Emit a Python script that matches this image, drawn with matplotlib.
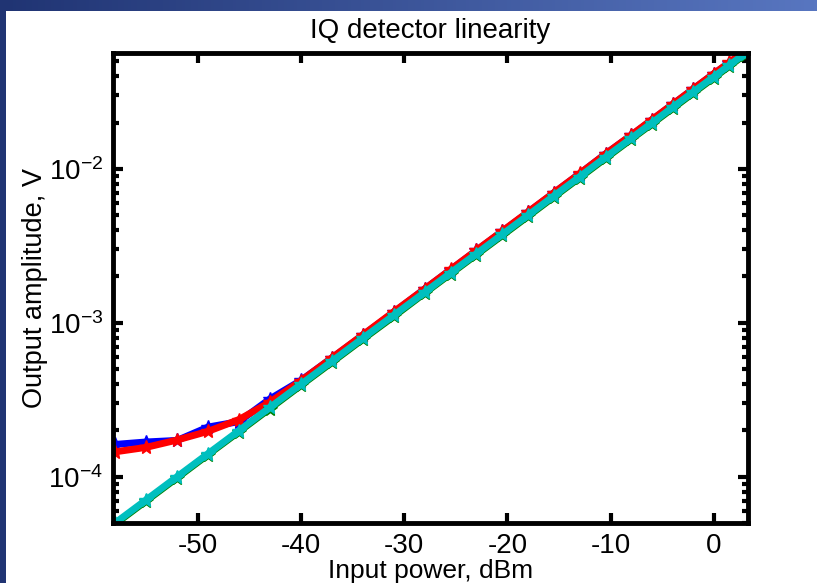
import matplotlib
matplotlib.use("Agg")
import matplotlib.pyplot as plt
import numpy as np
from matplotlib.ticker import LogLocator, NullFormatter

plt.rcParams['font.family'] = ['Liberation Sans', 'DejaVu Sans']
plt.rcParams['mathtext.fontset'] = 'custom'
plt.rcParams['mathtext.rm'] = 'Liberation Sans'
plt.rcParams['mathtext.it'] = 'Liberation Sans'
plt.rcParams['axes.unicode_minus'] = False

# input power, dBm
power = [-58, -55, -52, -49, -46, -43, -40, -37, -34, -31, -28, -25.5, -23,
         -20.5, -18, -15.5, -13, -10.5, -8, -6, -4, -2, 0, 1.5, 3]

# output amplitudes, V
amp_blue = [1.62e-4, 1.68e-4, 1.72e-4, 2.10e-4, 2.28e-4, 3.20e-4, 4.22e-4,
            5.90e-4, 8.30e-4, 1.17e-3, 1.66e-3, 2.21e-3, 2.95e-3, 3.92e-3,
            5.22e-3, 6.98e-3, 9.30e-3, 1.25e-2, 1.65e-2, 2.08e-2, 2.62e-2,
            3.30e-2, 4.15e-2, 4.90e-2, 5.80e-2]
amp_red = [1.45e-4, 1.55e-4, 1.73e-4, 1.97e-4, 2.35e-4, 3.05e-4, 4.20e-4,
           5.92e-4, 8.35e-4, 1.18e-3, 1.66e-3, 2.22e-3, 2.96e-3, 3.94e-3,
           5.25e-3, 7.00e-3, 9.33e-3, 1.25e-2, 1.66e-2, 2.09e-2, 2.63e-2,
           3.31e-2, 4.16e-2, 4.92e-2, 5.82e-2]
amp_green = [4.92e-5, 6.95e-5, 9.82e-5, 1.39e-4, 1.96e-4, 2.77e-4, 3.92e-4,
             5.53e-4, 7.82e-4, 1.10e-3, 1.56e-3, 2.08e-3, 2.77e-3, 3.69e-3,
             4.92e-3, 6.57e-3, 8.76e-3, 1.17e-2, 1.56e-2, 1.96e-2, 2.47e-2,
             3.11e-2, 3.91e-2, 4.65e-2, 5.53e-2]
amp_cyan = [5.00e-5, 7.06e-5, 9.98e-5, 1.41e-4, 1.99e-4, 2.82e-4, 3.98e-4,
            5.62e-4, 7.94e-4, 1.12e-3, 1.58e-3, 2.11e-3, 2.81e-3, 3.75e-3,
            5.00e-3, 6.67e-3, 8.89e-3, 1.19e-2, 1.58e-2, 1.99e-2, 2.51e-2,
            3.16e-2, 3.97e-2, 4.72e-2, 5.61e-2]

fig = plt.figure(figsize=(8.17, 5.83), dpi=100)
fig.patch.set_facecolor('white')

# slide background: gradient band on top, dark strip on the left
bg = fig.add_axes([0, 0, 1, 1], zorder=-10)
bg.set_axis_off()
grad = np.linspace(0, 1, 256).reshape(1, -1)
c0 = np.array([32, 52, 115]) / 255
c1 = np.array([88, 118, 192]) / 255
img = c0[None, None, :] * (1 - grad[..., None]) + c1[None, None, :] * grad[..., None]
bg.imshow(img, extent=[0, 1, 1 - 11 / 583, 1], aspect='auto')
bg.add_patch(plt.Rectangle((0, 0), 6 / 817, 1, color=c0, lw=0))
bg.set_xlim(0, 1)
bg.set_ylim(0, 1)

ax = fig.add_axes([113 / 817, 60 / 583, 635 / 817, 470 / 583])
lw = 5
ms = 10
ax.semilogy(power, amp_blue, '-*', color='#0000ff', lw=lw, ms=ms)
ax.semilogy(power, amp_red, '-*', color='#ff0000', lw=lw, ms=ms)
ax.semilogy(power, amp_green, '-*', color='#008000', lw=lw, ms=ms)
ax.semilogy(power, amp_cyan, '-*', color='#00bfbf', lw=lw, ms=ms)

ax.set_xlim(-58.2, 3.3)
ax.set_ylim(5.0e-5, 5.66e-2)
ax.set_xticks([-50, -40, -30, -20, -10, 0])
ax.yaxis.set_major_locator(LogLocator(base=10))
ax.yaxis.set_minor_locator(LogLocator(base=10, subs=np.arange(2, 10)))
ax.yaxis.set_minor_formatter(NullFormatter())

for s in ax.spines.values():
    s.set_linewidth(3.5)
ax.tick_params(which='both', direction='in', top=True, right=True,
               labelsize=20, width=3)
ax.tick_params(which='major', length=7, pad=7)
ax.tick_params(which='minor', length=4)

ax.set_title('IQ detector linearity', fontsize=20, pad=11)
ax.set_xlabel('Input power, dBm', fontsize=19, labelpad=0)
ax.set_ylabel('Output amplitude, V', fontsize=19.5, labelpad=0)

fig.savefig('out.png', dpi=100)
